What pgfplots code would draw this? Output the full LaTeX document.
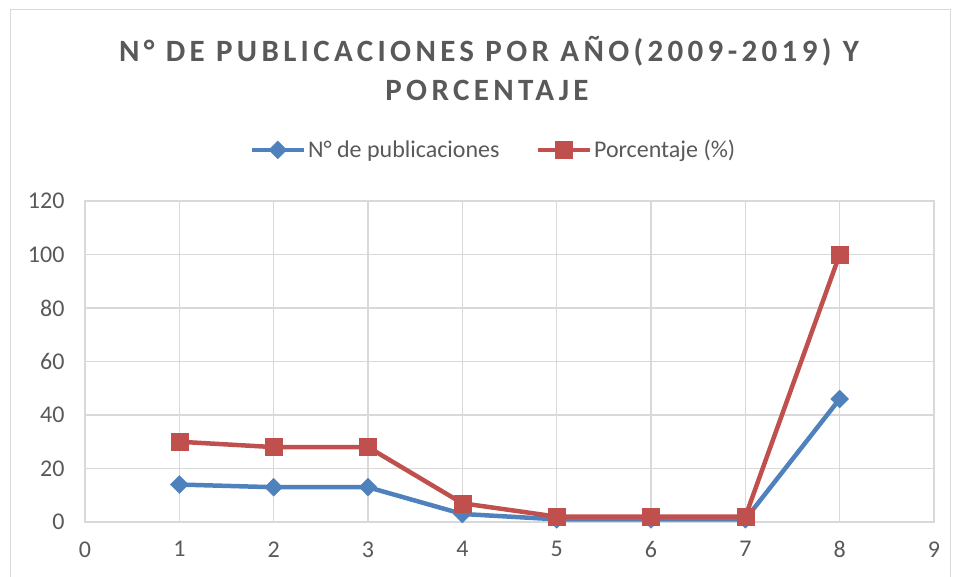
\documentclass[border=0pt]{standalone}
\usepackage{pgfplots}
\pgfplotsset{compat=1.18}
\usepackage{fontspec}
\setmainfont{Carlito}
\definecolor{sblue}{HTML}{4F81BD}
\definecolor{sred}{HTML}{C0504D}
\definecolor{gridc}{HTML}{D9D9D9}
\definecolor{txt}{HTML}{595959}
\begin{document}
\begin{tikzpicture}[x=1pt,y=1pt]
\path[use as bounding box] (0,0) rectangle (957,577);
\draw[gridc,line width=1pt] (10,-10) rectangle (950,567);
\node[text=txt,font=\fontsize{31}{36}\selectfont\bfseries\addfontfeature{LetterSpace=14}] at (489,526) {N° DE PUBLICACIONES POR AÑO(2009-2019) Y};
\node[text=txt,font=\fontsize{31}{36}\selectfont\bfseries\addfontfeature{LetterSpace=14}] at (487,487) {PORCENTAJE};
\begin{axis}[
  at={(85pt,55pt)}, anchor=south west,
  scale only axis, width=849pt, height=321pt,
  xmin=0, xmax=9, ymin=0, ymax=120,
  xtick={0,...,9}, ytick={0,20,...,120},
  grid=major, major grid style={gridc,line width=1.3pt},
  axis line style={gridc,line width=1.3pt},
  tick style={draw=none},
  ticklabel style={font=\fontsize{24}{28}\selectfont, text=txt},
  /pgf/number format/assume math mode=true,
  xticklabel style={yshift=-16pt},
  yticklabel style={xshift=-17pt},
  legend style={at={(0.481,1.159)}, anchor=center, draw=none, fill=none,
    legend columns=2, font=\fontsize{24}{28}\selectfont, text=txt,
    /tikz/every even column/.append style={column sep=34pt}},
  legend image code/.code={
    \draw[#1, mark repeat=2, mark phase=2] plot coordinates {(0pt,0pt) (26pt,0pt) (52pt,0pt)};
  },
]
\addplot[sblue, line width=4.5pt, mark=square*, mark size=6.3pt, mark options={rotate=45, line width=0.5pt, fill=sblue}]
  coordinates {(1,14) (2,13) (3,13) (4,3) (5,1) (6,1) (7,1) (8,46)};
\addlegendentry{N° de publicaciones}
\addplot[sred, line width=4.5pt, mark=square*, mark size=8.5pt, mark options={line width=0.5pt, fill=sred}]
  coordinates {(1,30) (2,28) (3,28) (4,7) (5,2) (6,2) (7,2) (8,100)};
\addlegendentry{Porcentaje (\%)}
\end{axis}
\end{tikzpicture}
\end{document}
